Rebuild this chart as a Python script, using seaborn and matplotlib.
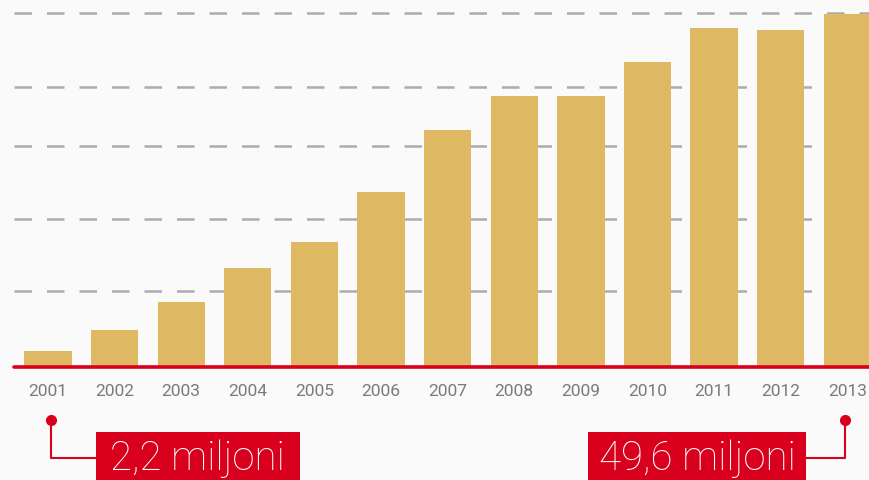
import numpy as np
import pandas as pd
import matplotlib
matplotlib.use("Agg")
import matplotlib.pyplot as plt
from matplotlib.patches import Rectangle
import seaborn as sns

# data (millions)
years = ["2001", "2002", "2003", "2004", "2005", "2006", "2007",
         "2008", "2009", "2010", "2011", "2012", "2013"]
values = [2.2, 5.2, 9.1, 13.9, 17.6, 24.6, 33.3, 38.1, 38.1, 42.8, 47.6, 47.3, 49.6]
grid_levels = [10.7, 20.8, 31.0, 39.3, 49.7]
first_label = "2,2 miljoni"
last_label = "49,6 miljoni"

bar_color = "#dfb864"
red = "#d8001c"
bg = "#fafafa"

sns.set_style("white")
plt.rcParams["font.family"] = ["Roboto", "DejaVu Sans"]

df = pd.DataFrame({"year": years, "value": values})

fig = plt.figure(figsize=(8.7, 4.8), dpi=100)
fig.patch.set_facecolor(bg)
ax = fig.add_axes([0, 0, 1, 1])
ax.set_facecolor(bg)

for g in grid_levels:
    ax.axhline(g, xmin=14 / 870, xmax=1, color="#acacac", lw=1.8,
               dashes=(7, 6), zorder=0)

sns.barplot(data=df, x="year", y="value", color=bar_color, saturation=1,
            width=0.71, linewidth=0, ax=ax, zorder=2)

ax.set_xlim(-0.72, 12.34)
ax.set_ylim(-15.87, 51.55)
ax.axhline(0, xmin=14 / 870, xmax=1, color=red, lw=2.6, zorder=3)

for i, y in enumerate(years):
    ax.text(i, -3.5, y, ha="center", va="center", fontsize=12.5, color="#7a7a7a")

# callouts
ax.plot([0.045, 0.045, 0.72], [-7.44, -12.78, -12.78], color=red, lw=1.5,
        clip_on=False)
ax.plot(0.045, -7.44, "o", color=red, ms=7)
ax.add_patch(Rectangle((0.72, -17), 3.06, 17 - 9.13, color=red, lw=0))
ax.text(2.25, -12.9, first_label, ha="center", va="center", fontsize=29,
        color="white", fontweight="light")

ax.plot([11.97, 11.97, 11.38], [-7.44, -12.78, -12.78], color=red, lw=1.5,
        clip_on=False)
ax.plot(11.97, -7.44, "o", color=red, ms=7)
ax.add_patch(Rectangle((8.11, -17), 3.27, 17 - 9.13, color=red, lw=0))
ax.text(9.745, -12.9, last_label, ha="center", va="center", fontsize=29,
        color="white", fontweight="light")

ax.axis("off")
fig.savefig("out.png", dpi=100, facecolor=fig.get_facecolor())
